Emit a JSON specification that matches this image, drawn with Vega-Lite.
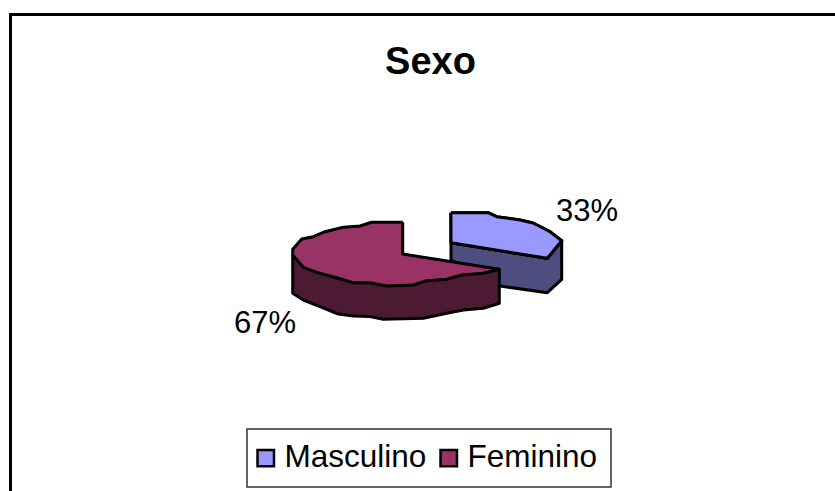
{"$schema":"https://vega.github.io/schema/vega-lite/v6.json","width":835,"height":491,"padding":0,"autosize":"none","background":"white",
"config":{"view":{"stroke":null},"legend":{"strokeWidth":1.5}},
"title":{"text":"Sexo","font":"Liberation Sans","fontSize":38,"fontWeight":"bold","color":"black","anchor":"middle","orient":"top","offset":0,"dx":13,"dy":112,"baseline":"alphabetic"},
"datasets":{
"poly":[
{"part":"blueSide","i":0,"x":451,"y":242.7},{"part":"blueSide","i":1,"x":547.3,"y":258.3},{"part":"blueSide","i":2,"x":561.7,"y":240.7},{"part":"blueSide","i":3,"x":561.7,"y":279.3},{"part":"blueSide","i":4,"x":547.3,"y":292.7},{"part":"blueSide","i":5,"x":500,"y":286},{"part":"blueSide","i":6,"x":451,"y":260},{"part":"blueSide","i":7,"x":451,"y":242.7},
{"part":"purpleSide","i":0,"x":292.7,"y":255},{"part":"purpleSide","i":1,"x":292.7,"y":293.3},{"part":"purpleSide","i":2,"x":303.3,"y":300},{"part":"purpleSide","i":3,"x":320,"y":306.7},{"part":"purpleSide","i":4,"x":338.3,"y":314},{"part":"purpleSide","i":5,"x":353.3,"y":316},{"part":"purpleSide","i":6,"x":370,"y":316.5},{"part":"purpleSide","i":7,"x":383.3,"y":319.3},{"part":"purpleSide","i":8,"x":423.3,"y":318.3},{"part":"purpleSide","i":9,"x":446.7,"y":313.3},{"part":"purpleSide","i":10,"x":463.3,"y":310},{"part":"purpleSide","i":11,"x":483.3,"y":308.3},{"part":"purpleSide","i":12,"x":499.3,"y":303.3},{"part":"purpleSide","i":13,"x":499.3,"y":269.3},{"part":"purpleSide","i":14,"x":292.7,"y":255},
{"part":"top","serie":"Masculino","i":0,"x":450.9,"y":212.7},{"part":"top","serie":"Masculino","i":1,"x":488,"y":212.7},{"part":"top","serie":"Masculino","i":2,"x":496.7,"y":216.7},{"part":"top","serie":"Masculino","i":3,"x":520,"y":220},{"part":"top","serie":"Masculino","i":4,"x":533,"y":223},{"part":"top","serie":"Masculino","i":5,"x":550,"y":231.7},{"part":"top","serie":"Masculino","i":6,"x":561.7,"y":240.7},{"part":"top","serie":"Masculino","i":7,"x":547.3,"y":258.3},{"part":"top","serie":"Masculino","i":8,"x":451,"y":242.7},{"part":"top","serie":"Masculino","i":9,"x":450.9,"y":212.7},
{"part":"top","serie":"Feminino","i":0,"x":402.7,"y":222.3},{"part":"top","serie":"Feminino","i":1,"x":371.7,"y":222.3},{"part":"top","serie":"Feminino","i":2,"x":360,"y":226},{"part":"top","serie":"Feminino","i":3,"x":343.3,"y":227.3},{"part":"top","serie":"Feminino","i":4,"x":325,"y":231.7},{"part":"top","serie":"Feminino","i":5,"x":313.3,"y":236.7},{"part":"top","serie":"Feminino","i":6,"x":301.7,"y":239},{"part":"top","serie":"Feminino","i":7,"x":292.7,"y":249.3},{"part":"top","serie":"Feminino","i":8,"x":292.7,"y":255},{"part":"top","serie":"Feminino","i":9,"x":303.3,"y":267.3},{"part":"top","serie":"Feminino","i":10,"x":320,"y":273.3},{"part":"top","serie":"Feminino","i":11,"x":338.3,"y":278.3},{"part":"top","serie":"Feminino","i":12,"x":353.3,"y":282.7},{"part":"top","serie":"Feminino","i":13,"x":370,"y":282.7},{"part":"top","serie":"Feminino","i":14,"x":386.7,"y":286},{"part":"top","serie":"Feminino","i":15,"x":413.3,"y":285},{"part":"top","serie":"Feminino","i":16,"x":426.7,"y":280.7},{"part":"top","serie":"Feminino","i":17,"x":446.7,"y":279.3},{"part":"top","serie":"Feminino","i":18,"x":461.7,"y":275},{"part":"top","serie":"Feminino","i":19,"x":483.3,"y":273.3},{"part":"top","serie":"Feminino","i":20,"x":499.3,"y":269.3},{"part":"top","serie":"Feminino","i":21,"x":402.7,"y":254},{"part":"top","serie":"Feminino","i":22,"x":402.7,"y":222.3}
],
"frame":[{"i":0,"x":835,"y":14.5},{"i":1,"x":10.5,"y":14.5},{"i":2,"x":10.5,"y":491}],
"labels":[{"label":"33%","x":556,"y":221},{"label":"67%","x":234,"y":333}]
},
"layer":[
{"data":{"name":"frame"},"mark":{"type":"line","color":"black","strokeWidth":3,"clip":false},"encoding":{"x":{"field":"x","type":"quantitative","scale":{"domain":[0,835],"range":[0,835],"nice":false,"zero":false},"axis":null},"y":{"field":"y","type":"quantitative","scale":{"domain":[0,491],"range":[0,491],"nice":false,"zero":false},"axis":null},"order":{"field":"i"}}},
{"data":{"name":"poly"},"transform":[{"filter":"datum.part==='blueSide'"}],"mark":{"type":"line","fill":"#4d4d80","stroke":"black","strokeWidth":3,"strokeJoin":"round"},"encoding":{"x":{"field":"x","type":"quantitative"},"y":{"field":"y","type":"quantitative"},"order":{"field":"i"}}},
{"data":{"name":"poly"},"transform":[{"filter":"datum.part==='top' && datum.serie==='Masculino'"}],"mark":{"type":"line","fill":"#9999ff","stroke":"black","strokeWidth":3,"strokeJoin":"round"},"encoding":{"x":{"field":"x","type":"quantitative"},"y":{"field":"y","type":"quantitative"},"order":{"field":"i"}}},
{"data":{"name":"poly"},"transform":[{"filter":"datum.part==='purpleSide'"}],"mark":{"type":"line","fill":"#4d1a33","stroke":"black","strokeWidth":3,"strokeJoin":"round"},"encoding":{"x":{"field":"x","type":"quantitative"},"y":{"field":"y","type":"quantitative"},"order":{"field":"i"}}},
{"data":{"name":"poly"},"transform":[{"filter":"datum.part==='top'"}],"mark":{"type":"line","stroke":"black","strokeWidth":3,"strokeJoin":"round"},"encoding":{"x":{"field":"x","type":"quantitative"},"y":{"field":"y","type":"quantitative"},"order":{"field":"i"},"fill":{"field":"serie","type":"nominal","sort":null,"scale":{"domain":["Masculino","Feminino"],"range":["#9999ff","#993366"]},"legend":{"title":null,"orient":"none","legendX":247,"legendY":429,"direction":"horizontal","columns":2,"symbolType":"square","symbolSize":272,"symbolStrokeColor":"black","symbolStrokeWidth":2.5,"symbolOffset":-10,"labelFont":"Liberation Sans","labelFontSize":31.5,"labelColor":"black","labelLimit":300,"labelOffset":3,"columnPadding":8,"padding":13,"strokeColor":"#333333","fillColor":"white","symbolOpacity":1}}}},
{"data":{"name":"labels"},"mark":{"type":"text","font":"Liberation Sans","fontSize":31,"align":"left","baseline":"alphabetic","color":"black"},"encoding":{"x":{"field":"x","type":"quantitative"},"y":{"field":"y","type":"quantitative"},"text":{"field":"label"}}}
]}
